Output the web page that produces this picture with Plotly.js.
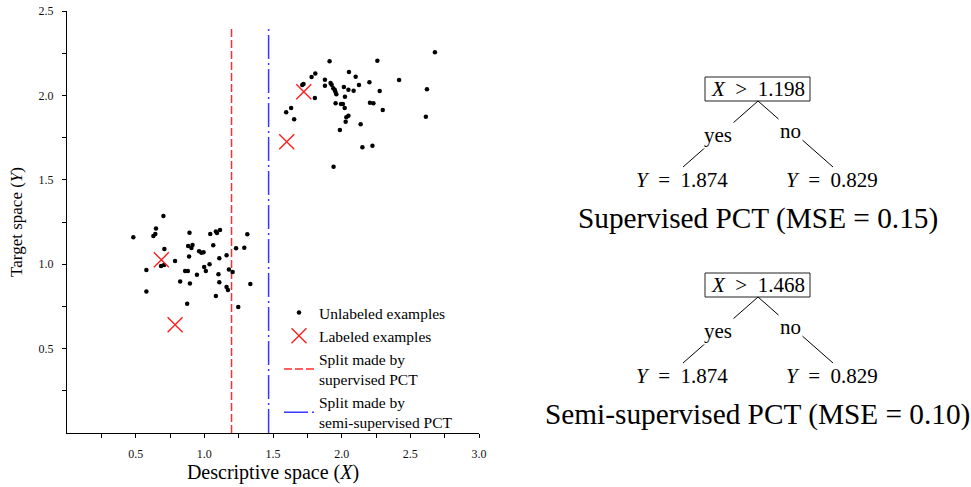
<!DOCTYPE html>
<html>
<head>
<meta charset="utf-8">
<script src="https://cdn.plot.ly/plotly-3.0.1.min.js"></script>
<style>html,body{margin:0;padding:0;background:#fff;}#chart{width:971px;height:487px;}</style>
</head>
<body>
<div id="chart"></div>
<script>
// ---- Data ----
const unlabeledX = [0.702,0.648,0.643,0.629,0.483,0.709,0.787,0.685,0.707,0.578,0.824,0.578,
  0.892,1.043,1.084,1.092,1.114,1.313,0.882,0.914,0.906,1.065,1.231,1.291,0.962,0.979,0.994,
  0.889,1.109,1.162,1.038,0.999,1.011,0.860,0.880,0.946,1.103,1.179,1.206,0.895,1.109,1.335,
  1.162,1.172,1.084,0.875,1.247,
  1.912,2.260,1.808,1.781,2.053,2.102,1.722,1.713,1.878,1.878,1.919,1.927,1.939,1.949,1.954,
  1.961,2.016,2.049,2.087,2.126,2.202,2.277,1.805,2.024,1.956,1.995,2.009,2.022,2.206,2.231,
  2.299,2.049,2.034,2.029,2.138,1.987,2.679,2.418,2.621,1.632,1.596,1.654,2.613,2.151,2.224,1.941];
const unlabeledY = [1.286,1.211,1.179,1.167,1.160,1.090,1.019,0.990,0.995,0.966,0.897,0.838,
  1.187,1.179,1.193,1.185,1.203,1.177,1.108,1.114,1.096,1.112,1.094,1.098,1.077,1.068,1.071,
  1.045,1.035,1.053,1.000,0.984,0.960,0.960,0.960,0.938,0.940,0.968,0.954,0.885,0.893,0.883,
  0.865,0.847,0.812,0.766,0.747,
  2.202,2.206,2.129,2.109,2.139,2.111,2.068,2.062,2.093,2.057,2.073,2.063,2.042,2.034,2.022,
  2.007,2.050,2.034,2.028,2.062,2.078,2.026,1.985,1.992,1.953,1.949,1.949,1.925,1.957,1.953,
  1.914,1.880,1.870,1.844,1.829,1.795,2.255,2.091,2.036,1.925,1.900,1.858,1.874,1.693,1.702,1.578];
const labeledX = [0.687, 0.787, 1.600, 1.724];
const labeledY = [1.026, 0.641, 1.725, 2.022];
const supervisedSplitX = [1.198, 1.198];
const semiSupervisedSplitX = [1.468, 1.468];
const splitY = [0, 2.4];

const seriesNames = ['Unlabeled examples', 'Labeled examples',
  'Split made by<br>supervised PCT', 'Split made by<br>semi-supervised PCT'];

const xTickVals = [0.25,0.5,0.75,1.0,1.25,1.5,1.75,2.0,2.25,2.5,2.75,3.0];
const xTickText = ['','0.5','','1.0','','1.5','','2.0','','2.5','','3.0'];
const yTickVals = [0.25,0.5,0.75,1.0,1.25,1.5,1.75,2.0,2.25,2.5];
const yTickText = ['','0.5','','1.0','','1.5','','2.0','','2.5'];

const treeThresholds = [1.198, 1.468];
const treeYesValues = [1.874, 1.874];
const treeNoValues = [0.829, 0.829];
const treeMSE = ['0.15', '0.10'];
const treeCaptions = ['Supervised PCT', 'Semi-supervised PCT'];

// ---- Layout helpers ----
const SERIF = 'Liberation Serif, Times New Roman, serif';
const fx = px => (px - 67) / 904;
const fy = py => (433 - py) / 422;

const traces = [
  {x: supervisedSplitX, y: splitY, mode: 'lines', name: seriesNames[2], legendrank: 3,
   line: {color: 'rgb(255,45,45)', width: 1.5, dash: '8px,3px'}, hoverinfo: 'skip'},
  {x: semiSupervisedSplitX, y: splitY, mode: 'lines', name: seriesNames[3], legendrank: 4,
   line: {color: 'rgb(55,55,255)', width: 1.5, dash: '24px,4px,2px,4px'}, hoverinfo: 'skip'},
  {x: unlabeledX, y: unlabeledY, mode: 'markers', name: seriesNames[0], legendrank: 1,
   marker: {color: '#000', size: 4.5, symbol: 'circle'}},
  {x: labeledX, y: labeledY, mode: 'markers', name: seriesNames[1], legendrank: 2,
   marker: {color: 'rgb(255,30,30)', size: 15, symbol: 'x-thin-open', line: {color: 'rgb(255,30,30)', width: 1.4}}}
];

const shapes = [];
const annotations = [];
const txt = (text, px, py, size, extra) => Object.assign({
  text: text, xref: 'paper', yref: 'paper', x: fx(px), y: fy(py),
  xanchor: 'center', yanchor: 'middle', showarrow: false,
  font: {family: SERIF, size: size, color: '#000'}}, extra || {});
const seg = (x0, y0, x1, y1) => ({type: 'line', xref: 'paper', yref: 'paper',
  x0: fx(x0), y0: fy(y0), x1: fx(x1), y1: fy(y1), line: {color: '#000', width: 1}});

const sp = '\u2002';
treeThresholds.forEach((thr, i) => {
  const o = i * 196;
  shapes.push({type: 'rect', xref: 'paper', yref: 'paper',
    x0: fx(705), x1: fx(810), y0: fy(77 + o), y1: fy(101 + o),
    line: {color: '#222', width: 1}, fillcolor: 'rgba(0,0,0,0)'});
  shapes.push(seg(758, 101 + o, 683, 167 + o));
  shapes.push(seg(758, 101 + o, 833, 167 + o));
  annotations.push(txt('<i>X</i>' + sp + '&gt;' + sp + thr.toFixed(3), 757.5, 89 + o, 21));
  annotations.push(txt('yes', 718, 135 + o, 21, {bgcolor: '#fff'}));
  annotations.push(txt('no', 790, 131 + o, 21, {bgcolor: '#fff'}));
  annotations.push(txt('<i>Y</i>' + sp + '=' + sp + treeYesValues[i].toFixed(3), 682, 180 + o, 21));
  annotations.push(txt('<i>Y</i>' + sp + '=' + sp + treeNoValues[i].toFixed(3), 832, 180 + o, 21));
  annotations.push(txt(treeCaptions[i] + ' (MSE = ' + treeMSE[i] + ')', 757.5, 218 + o, 29.3));
});

const axisCommon = {
  showgrid: false, zeroline: false, showline: true, linecolor: '#000', linewidth: 1,
  ticks: 'outside', ticklen: 4, tickwidth: 1, tickcolor: '#000', tickmode: 'array',
  tickfont: {family: SERIF, size: 12, color: '#111'}
};

const layout = {
  width: 971, height: 487,
  margin: {l: 67, r: 0, t: 11, b: 54},
  paper_bgcolor: '#fff', plot_bgcolor: '#fff',
  showlegend: true,
  legend: {x: fx(279), y: fy(296), xanchor: 'left', yanchor: 'top',
    bgcolor: 'rgba(0,0,0,0)', font: {family: SERIF, size: 15.5, color: '#000'},
    tracegroupgap: 0, itemwidth: 30},
  xaxis: Object.assign({}, axisCommon, {domain: [0, 412/904], range: [0, 3],
    tickvals: xTickVals, ticktext: xTickText, ticklabelstandoff: 6,
    title: {text: 'Descriptive space (<i>X</i>)', font: {family: SERIF, size: 20, color: '#000'}, standoff: 1}}),
  yaxis: Object.assign({}, axisCommon, {range: [0, 2.5],
    tickvals: yTickVals, ticktext: yTickText, ticklabelstandoff: 6,
    title: {text: 'Target space (<i>Y</i>)', font: {family: SERIF, size: 17, color: '#000'}, standoff: 11}}),
  xaxis3: Object.assign({}, axisCommon, {domain: [0, 412/904], range: [0, 3], overlaying: 'x', anchor: 'y',
    ticks: 'inside', tickvals: xTickVals, showticklabels: false, showline: false}),
  yaxis3: Object.assign({}, axisCommon, {range: [0, 2.5], overlaying: 'y', anchor: 'x',
    ticks: 'inside', tickvals: yTickVals, showticklabels: false, showline: false}),
  shapes: shapes,
  annotations: annotations
};

Plotly.newPlot('chart', traces, layout, {displayModeBar: false, staticPlot: true});
</script>
</body>
</html>
